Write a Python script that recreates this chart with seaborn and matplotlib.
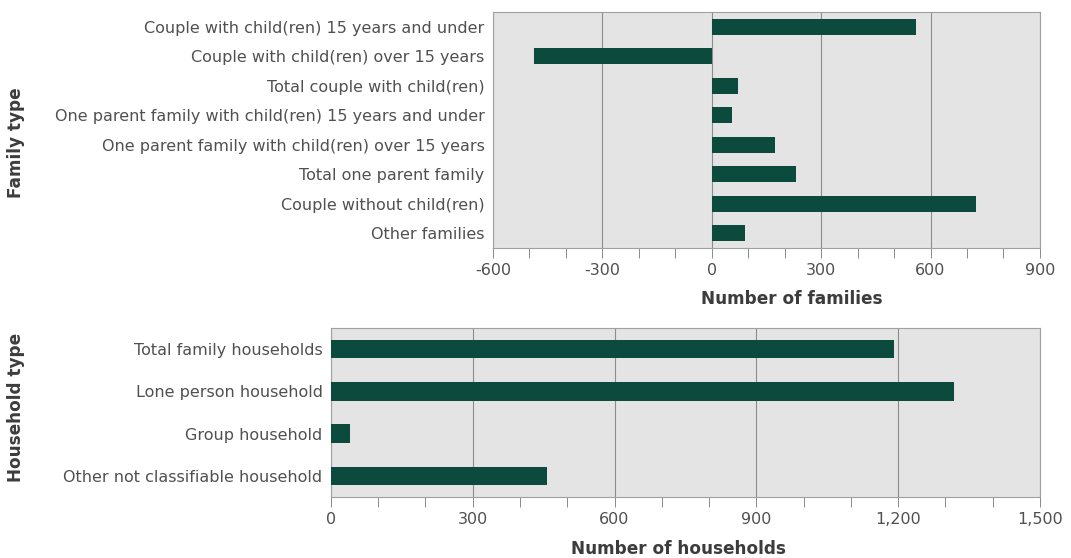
import matplotlib
matplotlib.use("Agg")
import matplotlib.pyplot as plt
from matplotlib.ticker import MultipleLocator, FuncFormatter
import seaborn as sns
import pandas as pd

family_types = [
    "Couple with child(ren) 15 years and under",
    "Couple with child(ren) over 15 years",
    "Total couple with child(ren)",
    "One parent family with child(ren) 15 years and under",
    "One parent family with child(ren) over 15 years",
    "Total one parent family",
    "Couple without child(ren)",
    "Other families",
]
family_counts = [560, -488, 72, 55, 173, 230, 725, 90]

household_types = [
    "Total family households",
    "Lone person household",
    "Group household",
    "Other not classifiable household",
]
household_counts = [1191, 1318, 41, 458]

BAR = "#0c4a3e"
PANEL = "#e4e4e4"
GRID = "#8c8c8c"
TEXT = "#505050"
LABEL = "#3c3c3c"

sns.set_theme(style="white")
plt.rcParams["font.family"] = ["DejaVu Sans"]

fig = plt.figure(figsize=(10.71, 5.58), dpi=100)
ax1 = fig.add_axes([0.4603, 0.5556, 0.5107, 0.4229])
ax2 = fig.add_axes([0.3090, 0.1093, 0.6620, 0.3029])

fam_df = pd.DataFrame({"type": family_types, "count": family_counts})
hh_df = pd.DataFrame({"type": household_types, "count": household_counts})

sns.barplot(data=fam_df, x="count", y="type", orient="h", color=BAR,
            saturation=1, width=0.53, linewidth=0, ax=ax1, zorder=3)
sns.barplot(data=hh_df, x="count", y="type", orient="h", color=BAR,
            saturation=1, width=0.44, linewidth=0, ax=ax2, zorder=3)

comma = FuncFormatter(lambda v, p: f"{int(v):,}")

for ax, lo, hi, n in [(ax1, -600, 900, len(family_types)),
                      (ax2, 0, 1500, len(household_types))]:
    ax.set_facecolor(PANEL)
    ax.set_xlim(lo, hi)
    ax.set_ylim(n - 0.5, -0.5)
    ax.xaxis.set_major_locator(MultipleLocator(300))
    ax.xaxis.set_minor_locator(MultipleLocator(100))
    ax.xaxis.set_major_formatter(comma)
    ax.grid(axis="x", which="major", color=GRID, linewidth=0.8, zorder=0)
    ax.set_axisbelow(True)
    ax.tick_params(axis="x", which="both", direction="out", length=7,
                   width=0.6, color="#777777", labelsize=11.5,
                   labelcolor=TEXT, pad=4, bottom=True)
    ax.tick_params(axis="y", length=0, labelsize=11.5, labelcolor=TEXT, pad=6)
    for s in ax.spines.values():
        s.set_color("#a0a0a0")
        s.set_linewidth(0.8)

ax1.set_xlabel("Number of families", fontsize=12.2, fontweight="bold", color=LABEL)
ax1.xaxis.set_label_coords(0.547, -0.178)
ax2.set_xlabel("Number of households", fontsize=12.2, fontweight="bold", color=LABEL)
ax2.xaxis.set_label_coords(0.49, -0.254)

ax1.set_ylabel("Family type", fontsize=12.2, fontweight="bold", color=LABEL)
ax1.yaxis.set_label_coords(25 / 1071, 1 - 143 / 558, transform=fig.transFigure)
ax2.set_ylabel("Household type", fontsize=12.2, fontweight="bold", color=LABEL)
ax2.yaxis.set_label_coords(25 / 1071, 1 - 407 / 558, transform=fig.transFigure)

fig.savefig("out.png", dpi=100, facecolor="white")
